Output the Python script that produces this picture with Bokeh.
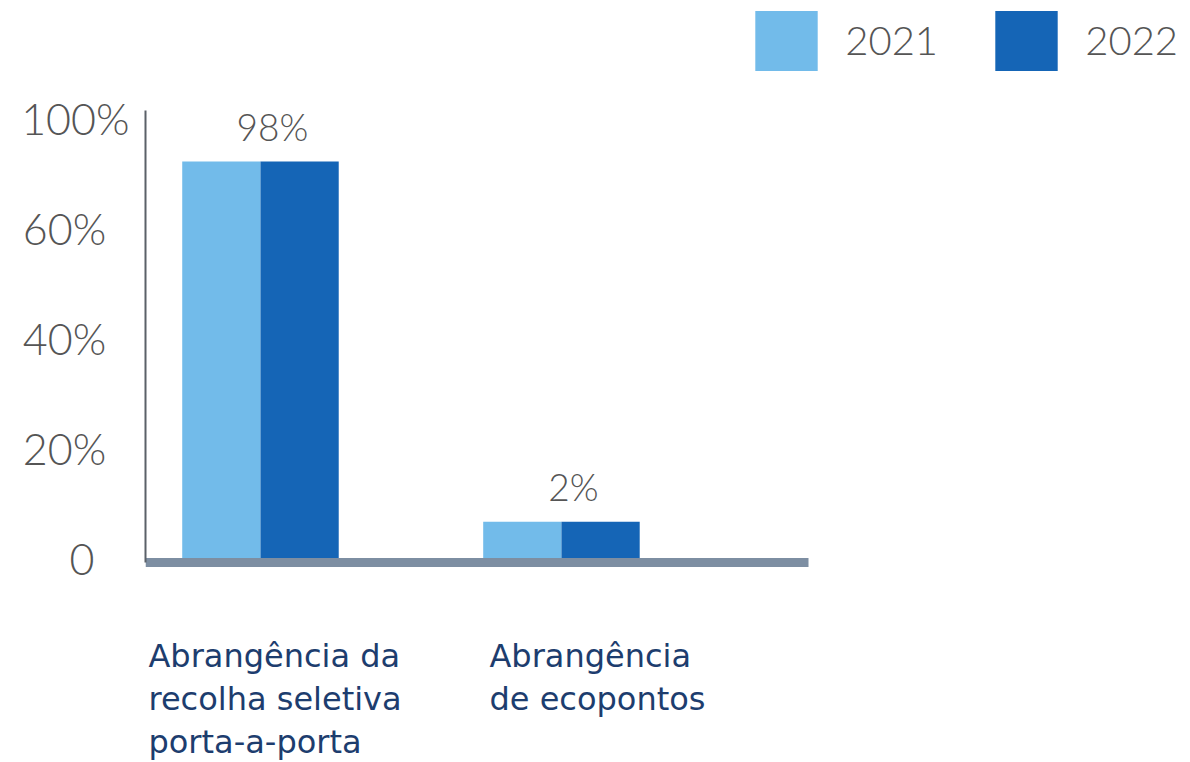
from bokeh.plotting import figure
from bokeh.models import (ColumnDataSource, LinearAxis, FixedTicker, Range1d,
                          Legend, LegendItem)
from bokeh.core.properties import value
from bokeh.transform import dodge
from bokeh.embed import file_html
from bokeh.resources import INLINE

# ---- data -------------------------------------------------------------
categories = ["Abrangência da\nrecolha seletiva\nporta-a-porta",
              "Abrangência\nde ecopontos"]
years = ["2021", "2022"]
shown_pct = [98, 2]            # values printed above each pair
bar_2021 = [72.2, 6.7]         # bar heights
bar_2022 = [72.2, 6.7]
tick_values = [0, 20, 40, 60, 80]
tick_labels = ["0", "20%", "40%", "60%", "100%"]

# ---- style ------------------------------------------------------------
LIGHT = "#72bbea"
DARK = "#1565b6"
AXIS = "#5b6168"
BASE = "#7d8ea2"
GREY_TXT = "#555555"
NAVY = "#1d3d6e"
NUM_FONT = "Lato Light"
CAT_FONT = "DejaVu Sans"

W, H = 1190, 762
x_pos = list(range(len(categories)))

src = ColumnDataSource(dict(
    x=x_pos, cat=categories, y2021=bar_2021, y2022=bar_2022,
    lab=[f"{v}%" for v in shown_pct],
    top=[max(a, b) for a, b in zip(bar_2021, bar_2022)],
    zero=[0] * len(categories),
    cat_dx=[-112, -72],
))

p = figure(width=W, height=H, output_backend="svg", toolbar_location=None,
           x_range=Range1d(-0.382, 3.090), y_range=Range1d(-37.09, 101.45),
           x_axis_type=None, y_axis_type=None,
           min_border_left=145, min_border_right=0,
           min_border_top=0, min_border_bottom=0,
           outline_line_color=None, background_fill_color="white",
           border_fill_color="white")
p.xgrid.visible = False
p.ygrid.visible = False

bw = 0.26
r1 = p.vbar(x=dodge("x", -bw / 2, range=p.x_range), top="y2021", width=bw,
            source=src, fill_color=LIGHT, line_color=None)
r2 = p.vbar(x=dodge("x", bw / 2, range=p.x_range), top="y2022", width=bw,
            source=src, fill_color=DARK, line_color=None)

# value labels above bars
p.text(x="x", y="top", text="lab", source=src, x_offset=12, y_offset=-35,
       text_align="center", text_baseline="alphabetic",
       text_font=value(NUM_FONT), text_font_size="37px", text_color=GREY_TXT)

# category labels under baseline
p.text(x="x", y="zero", text="cat", source=src, x_offset="cat_dx", y_offset=79,
       text_align="left", text_baseline="top", text_line_height=1.13,
       text_font=value(CAT_FONT), text_font_size="32px", text_color=NAVY)

# y axis
nb = "\u00a0"
pads = {"0": 3, "20%": 2, "40%": 2, "60%": 2, "100%": 0}
yaxis = LinearAxis(ticker=FixedTicker(ticks=tick_values),
                   major_label_overrides={v: l + nb * pads[l] for v, l in zip(tick_values, tick_labels)},
                   bounds=(-0.8, 81.5),
                   axis_line_color=AXIS, axis_line_width=2,
                   major_tick_in=0, major_tick_out=0, minor_tick_in=0, minor_tick_out=0,
                   major_label_standoff=16,
                   major_label_text_font=NUM_FONT, major_label_text_font_size="43px",
                   major_label_text_color=GREY_TXT)
p.add_layout(yaxis, "left")

# thick baseline
xaxis = LinearAxis(ticker=FixedTicker(ticks=[]), fixed_location=-0.8,
                   bounds=(-0.382, 1.821),
                   axis_line_color=BASE, axis_line_width=9,
                   major_tick_in=0, major_tick_out=0, minor_tick_in=0, minor_tick_out=0,
                   major_label_text_font_size="0px")
p.add_layout(xaxis, "below")

legend = Legend(items=[LegendItem(label=years[0], renderers=[r1]),
                       LegendItem(label=years[1], renderers=[r2])],
                orientation="horizontal", location=(602.25, 684.5),
                glyph_width=78, glyph_height=75, label_standoff=20,
                label_width=142, spacing=0, padding=0, margin=0,
                border_line_alpha=0, background_fill_alpha=0,
                label_text_font=NUM_FONT, label_text_font_size="40px",
                label_text_color=GREY_TXT)
p.add_layout(legend)

open("out.html", "w").write(file_html(p, INLINE))
